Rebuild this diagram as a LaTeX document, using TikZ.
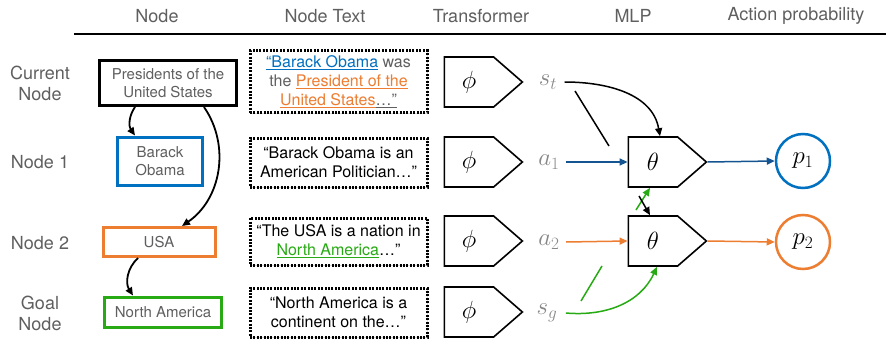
\documentclass[tikz,border=0pt]{standalone}
\usepackage[no-math]{fontspec}
\setmainfont{TeX Gyre Heros}
\usetikzlibrary{shapes.symbols, arrows.meta, shadows}
\definecolor{obamablue}{RGB}{0,112,192}
\definecolor{usaorange}{RGB}{237,125,49}
\definecolor{americagreen}{RGB}{40,170,20}
\definecolor{arrowblue}{RGB}{20,85,145}
\definecolor{labelgray}{RGB}{95,95,95}
\definecolor{embgray}{RGB}{135,135,135}

\begin{document}
\begin{tikzpicture}[
    x=1pt, y=1pt,
    header/.style={text=labelgray, font=\fontsize{18}{21}\selectfont},
    rowlabel/.style={text=labelgray, align=center, font=\fontsize{18}{21}\selectfont},
    kgnode/.style={draw, fill=white, line width=2.5pt, text=labelgray, align=center, inner sep=0pt, font=\fontsize{15}{18}\selectfont, drop shadow={shadow xshift=1pt, shadow yshift=-1pt, opacity=0.3}},
    textbox/.style={draw, fill=white, line width=3pt, dash pattern=on 2pt off 1.4pt, minimum width=177, inner sep=0pt, align=center, font=\fontsize{16}{19}\selectfont, drop shadow={shadow xshift=1pt, shadow yshift=-1pt, opacity=0.3}},
    encoder/.style={draw, fill=white, shape=signal, signal to=east, signal pointer angle=82, line width=1.6pt, minimum width=78, minimum height=50, font=\fontsize{23}{23}\selectfont},
    emb/.style={text=embgray, font=\fontsize{25}{25}\selectfont},
    prob/.style={draw, circle, fill=white, line width=2.5pt, minimum size=54, inner sep=0pt, font=\fontsize{24}{24}\selectfont, drop shadow={shadow xshift=1pt, shadow yshift=-1pt, opacity=0.3}},
    link/.style={-{Triangle[length=8pt, width=7pt]}, line width=1.5pt}
]
    \useasboundingbox (0,0) rectangle (886,338);

    % Headers
    \node[header] (hnode) at (157,322) {Node};
    \node[header] (htext) at (325,322) {Node Text};
    \node[header] (htrans) at (481,322) {Transformer};
    \node[header] (hmlp) at (633,322) {MLP};
    \node[header] (hprob) at (796,322) {Action probability};
    \draw[line width=2.5pt] (74,304) -- (886,304);

    % Row labels
    \node[rowlabel] (lcur) at (40,255) {Current\\Node};
    \node[rowlabel] (lone) at (40,176) {Node 1};
    \node[rowlabel] (ltwo) at (40,95) {Node 2};
    \node[rowlabel] (lgoal) at (40,25) {Goal\\Node};

    % Graph nodes
    \node[kgnode, line width=3pt, minimum width=137, minimum height=45] (pres) at (168,255) {Presidents of the\\United States};
    \node[kgnode, draw=obamablue, line width=3pt, minimum width=85, minimum height=48] (obama) at (160,177) {Barack\\Obama};
    \node[kgnode, draw=usaorange, line width=3pt, minimum width=112, minimum height=29] (usa) at (159,96) {USA};
    \node[kgnode, draw=americagreen, line width=3pt, minimum width=117, minimum height=30] (namer) at (163,26) {North America};

    \draw[link, line width=1.8pt] ([xshift=-33]pres.south) to[bend right=35] ([xshift=-25]obama.north);
    \draw[link, line width=1.8pt] ([xshift=36]pres.south) to[bend left=45] ([xshift=23]usa.north);
    \draw[link, line width=1.8pt] ([xshift=-21]usa.south) to[bend right=40] ([xshift=-30]namer.north);

    % Node texts
    \node[textbox, text=labelgray, minimum height=62] (tpres) at (338.5,256) {{\color{obamablue}\underline{“Barack Obama}} was\\the {\color{usaorange}\underline{President of the}}\\{\color{usaorange}\underline{United States}}\underline{…”}};
    \node[textbox, minimum height=49] (tobama) at (338.5,175.5) {“Barack Obama is an\\American Politician…”};
    \node[textbox, minimum height=47] (tusa) at (338.5,96.5) {“The USA is a nation in\\{\color{americagreen}\underline{North America}}…”};
    \node[textbox, minimum height=49] (tnamer) at (338.5,25.5) {“North America is a\\continent on the…”};

    % Transformer
    \node[encoder] (encst) at (469,256) {$\phi$};
    \node[encoder] (encaone) at (469,176) {$\phi$};
    \node[encoder] (encatwo) at (469,97) {$\phi$};
    \node[encoder] (encsg) at (469,26) {$\phi$};

    \node[emb] (st) at (548,256) {$s_t$};
    \node[emb] (aone) at (549,176) {$a_1$};
    \node[emb] (atwo) at (549,96) {$a_2$};
    \node[emb] (sg) at (547,25) {$s_g$};

    % MLP
    \node[encoder, font=\fontsize{25}{25}\selectfont] (mlpone) at (653,176) {$\theta$};
    \node[encoder, font=\fontsize{25}{25}\selectfont] (mlptwo) at (653,97) {$\theta$};

    % Action probability
    \node[prob, draw=obamablue] (pone) at (803,177) {$p_1$};
    \node[prob, draw=usaorange] (ptwo) at (803,96) {$p_2$};

    % Inputs to the MLP
    \coordinate (stcuta) at (575,247);
    \coordinate (stcutb) at (609,192);
    \coordinate (sgcuta) at (581,37);
    \coordinate (sgcutb) at (602,72);
    \coordinate (upstart) at (636,128);
    \coordinate (downstart) at (639,142);

    \draw[link] ([xshift=4]st.east) to[out=0, in=100] ([xshift=7]mlpone.north);
    \draw[line width=1.5pt] (stcuta) -- (stcutb);
    \draw[link, arrowblue] ([xshift=3]aone.east) -- (mlpone.west);
    \draw[link, usaorange] ([xshift=3]atwo.east) -- (mlptwo.west);
    \draw[line width=1.5pt, americagreen] (sgcuta) -- (sgcutb);
    \draw[link, americagreen] ([xshift=5]sg.east) to[out=-5, in=-115] ([xshift=4]mlptwo.south);
    \draw[link, americagreen] (upstart) -- ([xshift=-3]mlpone.south);
    \draw[link] (downstart) -- ([xshift=-3]mlptwo.north);

    % Outputs
    \draw[link, arrowblue] (mlpone.east) -- (pone.west);
    \draw[link, usaorange] (mlptwo.east) -- (ptwo.west);
\end{tikzpicture}
\end{document}
